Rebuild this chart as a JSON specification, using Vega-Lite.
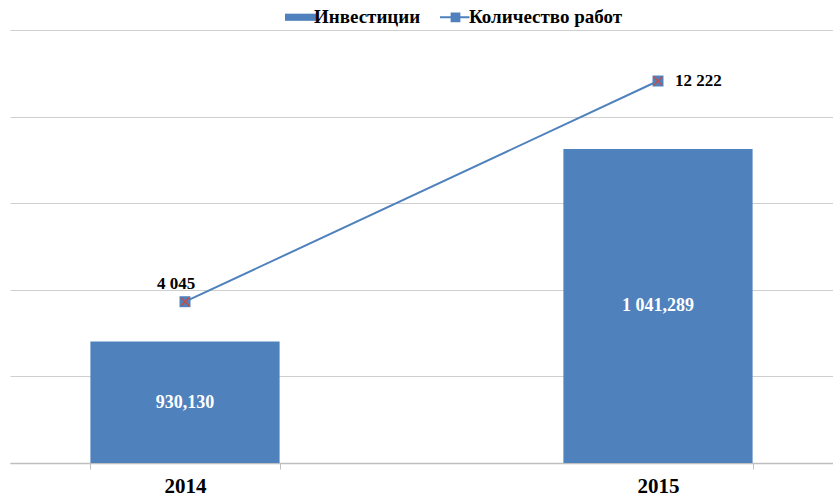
{
  "$schema": "https://vega.github.io/schema/vega-lite/v6.json",
  "width": 823,
  "height": 433,
  "autosize": {"type": "none"},
  "padding": {"top": 30, "left": 10, "right": 0, "bottom": 34},
  "background": "white",
  "config": {
    "view": {"stroke": null},
    "locale": {"number": {"decimal": ",", "thousands": " ", "grouping": [3], "currency": ["", ""]}},
    "font": "Liberation Serif"
  },
  "data": {
    "values": [
      {"year": "2014", "invest": 930.13, "works": 4045},
      {"year": "2015", "invest": 1041.289, "works": 12222}
    ]
  },
  "encoding": {
    "x": {
      "field": "year",
      "type": "nominal",
      "scale": {"paddingInner": 0.6, "paddingOuter": 0.17},
      "axis": {
        "title": null,
        "labelAngle": 0,
        "labelFont": "Liberation Serif",
        "labelFontSize": 21,
        "labelFontWeight": "bold",
        "labelColor": "#000000",
        "labelPadding": 6,
        "tickBand": "extent",
        "tickSize": 6,
        "tickColor": "#BFBFBF",
        "domainColor": "#BFBFBF",
        "domainWidth": 1.5,
        "grid": false
      }
    }
  },
  "layer": [
    {
      "layer": [
        {
          "mark": {"type": "bar", "color": "#4F81BD"},
          "encoding": {
            "y": {
              "field": "invest",
              "type": "quantitative",
              "scale": {"domain": [860, 1110], "nice": false, "zero": false},
              "axis": {
                "title": null,
                "values": [860, 910, 960, 1010, 1060, 1110],
                "labels": false,
                "ticks": false,
                "domain": false,
                "grid": true,
                "gridColor": "#CFCFCF",
                "gridWidth": 1
              }
            },
            "y2": {"datum": 860},
            "color": {
              "datum": "Инвестиции",
              "type": "nominal",
              "scale": {"domain": ["Инвестиции", "Количество работ"], "range": ["#4F81BD", "#4F81BD"]},
              "legend": {
                "title": null,
                "orient": "none",
                "legendX": 281,
                "legendY": -22.5,
                "direction": "horizontal",
                "symbolSize": 961,
                "labelFont": "Liberation Serif",
                "labelFontSize": 19,
                "labelFontWeight": "bold",
                "labelColor": "#000000",
                "labelOffset": 4,
                "columnPadding": 15,
                "padding": 0,
                "encode": {
                  "symbols": {
                    "update": {
                      "shape": {"signal": "datum.value === 'Инвестиции' ? 'M-1,-0.23H1V0.23H-1Z' : 'M-1,0H0.9M-0.25,-0.25H0.25V0.25H-0.25Z'"},
                      "fill": {"value": "#4F81BD"},
                      "stroke": {"value": "#4F81BD"},
                      "strokeWidth": {"signal": "datum.value === 'Инвестиции' ? 0 : 2"},
                      "opacity": {"value": 1},
                      "fillOpacity": {"value": 1}
                    }
                  }
                }
              }
            }
          }
        },
        {
          "transform": [{"filter": "datum.year === '2014'"}],
          "mark": {"type": "text", "color": "#FFFFFF", "fontSize": 18, "fontWeight": "bold", "font": "Liberation Serif", "baseline": "middle", "dy": 61},
          "encoding": {
            "y": {"field": "invest", "type": "quantitative"},
            "text": {"field": "invest", "type": "quantitative", "format": ",.3f"}
          }
        },
        {
          "transform": [{"filter": "datum.year === '2015'"}],
          "mark": {"type": "text", "color": "#FFFFFF", "fontSize": 18, "fontWeight": "bold", "font": "Liberation Serif", "baseline": "middle", "dy": 157},
          "encoding": {
            "y": {"field": "invest", "type": "quantitative"},
            "text": {"field": "invest", "type": "quantitative", "format": ",.3f"}
          }
        }
      ]
    },
    {
      "layer": [
        {
          "mark": {"type": "line", "strokeWidth": 2},
          "encoding": {
            "y": {
              "field": "works",
              "type": "quantitative",
              "scale": {"domain": [-1931, 14112], "nice": false, "zero": false},
              "axis": null
            },
            "color": {"datum": "Количество работ", "type": "nominal"}
          }
        },
        {
          "mark": {"type": "point", "shape": "square", "filled": true, "size": 120, "color": "#4F81BD", "opacity": 1},
          "encoding": {"y": {"field": "works", "type": "quantitative"}}
        },
        {
          "mark": {"type": "point", "shape": "M-1,-1L1,1M1,-1L-1,1", "filled": false, "size": 70, "color": "#C0504D", "strokeWidth": 1.5, "opacity": 1},
          "encoding": {"y": {"field": "works", "type": "quantitative"}}
        },
        {
          "transform": [{"filter": "datum.year === '2014'"}],
          "mark": {"type": "text", "fontSize": 17, "fontWeight": "bold", "font": "Liberation Serif", "color": "#000000", "dx": -9, "dy": -18},
          "encoding": {
            "y": {"field": "works", "type": "quantitative"},
            "text": {"field": "works", "type": "quantitative", "format": ","}
          }
        },
        {
          "transform": [{"filter": "datum.year === '2015'"}],
          "mark": {"type": "text", "fontSize": 17, "fontWeight": "bold", "font": "Liberation Serif", "color": "#000000", "align": "left", "dx": 17, "baseline": "middle"},
          "encoding": {
            "y": {"field": "works", "type": "quantitative"},
            "text": {"field": "works", "type": "quantitative", "format": ","}
          }
        }
      ]
    }
  ],
  "resolve": {"scale": {"y": "independent"}}
}
